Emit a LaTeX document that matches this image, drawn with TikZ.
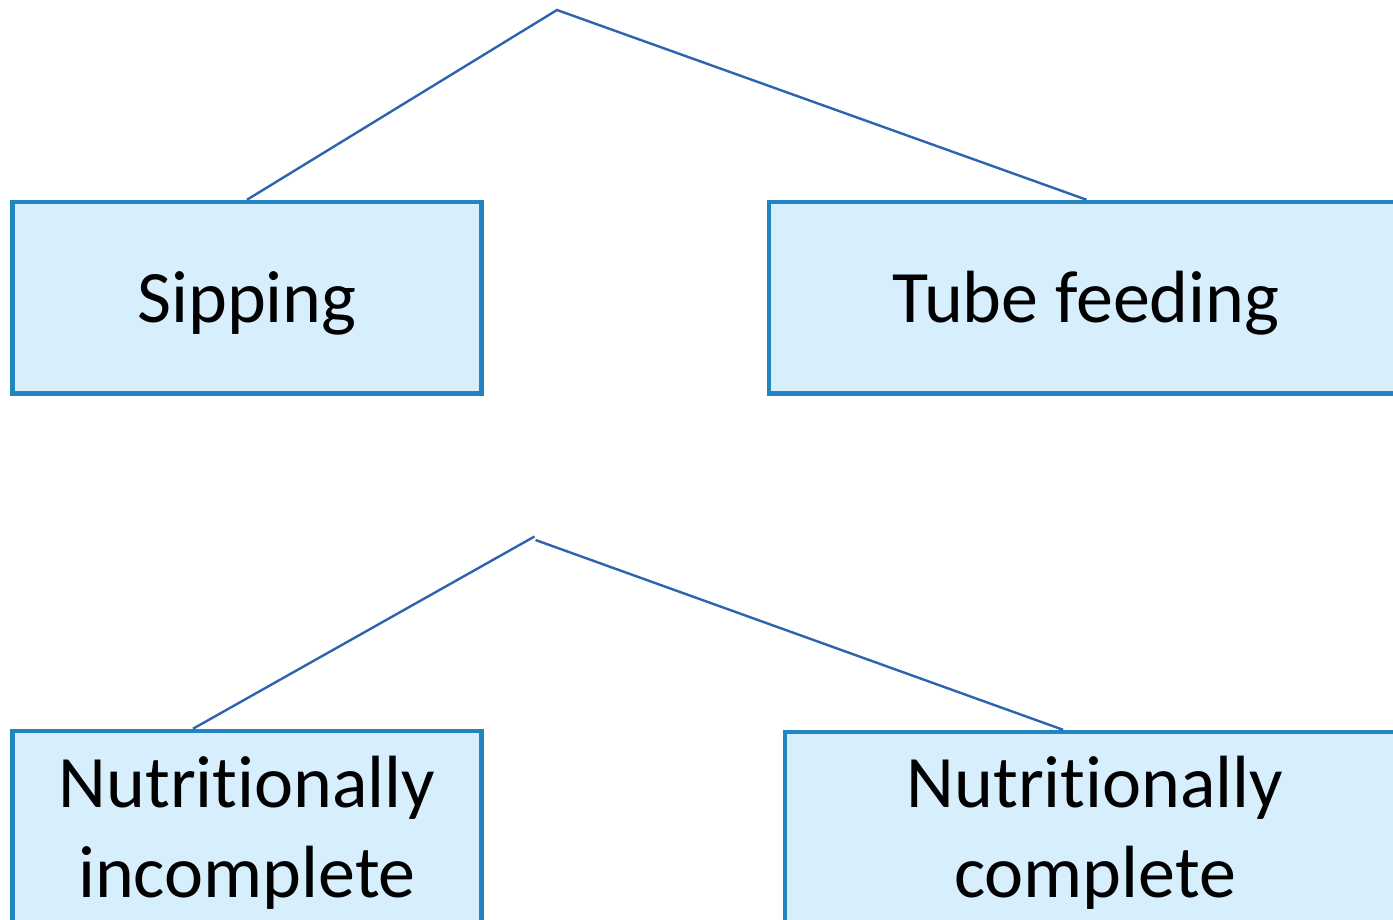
\documentclass[tikz,border=0pt]{standalone}
\usepackage{fontspec}
\setmainfont[Ligatures={NoCommon}]{Carlito}
\definecolor{boxfill}{HTML}{D7EEFD}
\definecolor{boxline}{HTML}{2385C0}
\definecolor{conn}{HTML}{2E64AE}
\begin{document}
\begin{tikzpicture}[x=1pt,y=-1pt,
  catbox/.style={draw=boxline,fill=boxfill,line width=4.5pt,rectangle,inner sep=0pt},
  lbl/.style={font=\fontsize{74}{90}\selectfont,align=center,inner sep=0pt,anchor=base},
  link/.style={draw=conn,line width=2.4pt}]
\useasboundingbox (0,0) rectangle (1393,920);
\clip (0,0) rectangle (1393,920);
% boxes
\node[catbox,minimum width=469pt,minimum height=191.5pt] (sip) at (247,297.75) {};
\node[catbox,minimum width=635pt,minimum height=191.5pt] (tube) at (1086.5,297.75) {};
\node[catbox,minimum width=469pt,minimum height=260pt] (inc) at (247,861) {};
\node[catbox,minimum width=619pt,minimum height=260pt] (comp) at (1094.5,862) {};
% labels
\node[lbl] (tsip) at (247,323) {Sipping};
\node[lbl] (ttube) at (1086,323) {Tube feeding};
\node[lbl] (tinc) at (247,897) {Nutritionally\\incomplete};
\node[lbl] (tcomp) at (1095,897) {Nutritionally\\complete};
% connectors
\coordinate (apex) at (557,10);
\coordinate (apexL) at (534.5,536.5);
\coordinate (apexR) at (535.5,540);
\draw[link] (sip.north) -- (apex) -- (tube.north);
\draw[link] (apexL) -- ([xshift=-54pt]inc.north);
\draw[link] (apexR) -- ([xshift=-31.5pt]comp.north);
\end{tikzpicture}
\end{document}
